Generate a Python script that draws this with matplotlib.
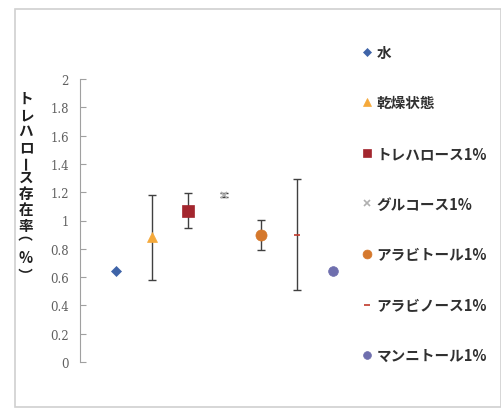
import matplotlib
matplotlib.use("Agg")
import matplotlib.pyplot as plt
from matplotlib.patches import Rectangle

plt.rcParams['font.family'] = ['Noto Sans CJK JP', 'DejaVu Sans']

labels = ["水", "乾燥状態", "トレハロース1%", "グルコース1%", "アラビトール1%", "アラビノース1%", "マンニトール1%"]
xpos = [1, 2, 3, 4, 5, 6, 7]
values = [0.64, 0.88, 1.07, 1.18, 0.90, 0.90, 0.645]
errors = [None, 0.30, 0.125, 0.012, 0.105, 0.39, None]
markers = ["D", "^", "s", "x", "o", "_", "o"]
msizes = [5, 7, 8, 5, 8, 5, 7]
colors = ["#3f64a8", "#f5a93a", "#a3262e", "#b0b0b0", "#d5782c", "#c0392b", "#6f6fae"]
yticks = [0, 0.2, 0.4, 0.6, 0.8, 1, 1.2, 1.4, 1.6, 1.8, 2]
ytick_labels = ["0", "0.2", "0.4", "0.6", "0.8", "1", "1.2", "1.4", "1.6", "1.8", "2"]
ylabel = "トレハロース存在率（%）"

W, H = 502, 410
fig = plt.figure(figsize=(W / 100, H / 100), dpi=100)
fig.patches.append(Rectangle((15 / W, 2 / H), (W - 16) / W, (H - 12) / H,
                             transform=fig.transFigure, fill=False,
                             edgecolor="#d0d0d0", linewidth=1.2))

ax = fig.add_axes([80 / W, 47 / H, 289 / W, 283 / H])
for i in range(len(labels)):
    if errors[i] is not None:
        ax.errorbar(xpos[i], values[i], yerr=errors[i], fmt="none",
                    ecolor="#404040", elinewidth=1, capsize=3, capthick=1, zorder=2)
    ax.plot(xpos[i], values[i], linestyle="none", marker=markers[i],
            markersize=msizes[i], color=colors[i], markeredgecolor=colors[i],
            markeredgewidth=1.2 if markers[i] in ("x", "_") else 0.5,
            label=labels[i], zorder=3)

ax.set_xlim(0, 8)
ax.set_ylim(0, 2)
ax.set_yticks(yticks)
ax.set_yticklabels(ytick_labels, family=["DejaVu Serif"], fontsize=8.5, color="#606060")
ax.set_xticks([])
for s in ["top", "right", "bottom"]:
    ax.spines[s].set_visible(False)
ax.spines["left"].set_color("#a0a0a0")
ax.tick_params(axis="y", direction="in", length=4, color="#a0a0a0", pad=8)

# vertical (stacked) y label; rotated full-width glyphs get an ink-offset correction
rot_chars = {"ー": 90, "（": -90, "）": -90}
dx = {"（": -11, "）": -2}
dy = {"（": -5, "）": -5}
ypix = [99, 115, 131, 147, 163, 178, 194, 210, 226, 247, 258, 279]
for k, ch in enumerate(ylabel):
    fig.text((26 + dx.get(ch, 0)) / W, 1 - (ypix[k] + dy.get(ch, 0)) / H, ch,
             ha="center", va="center",
             fontsize=10.5, fontweight="bold", color="#202020",
             rotation=rot_chars.get(ch, 0))

leg = ax.legend(loc="upper left", bbox_to_anchor=(356 / W, 1 - 39 / H),
                bbox_transform=fig.transFigure, frameon=False,
                prop={"size": 10.5, "weight": "bold"}, labelspacing=2.37,
                handlelength=0.7, handletextpad=0.3, markerscale=0.8,
                borderaxespad=0)
for t in leg.get_texts():
    t.set_color("#303030")

fig.savefig("out.png", dpi=100)
